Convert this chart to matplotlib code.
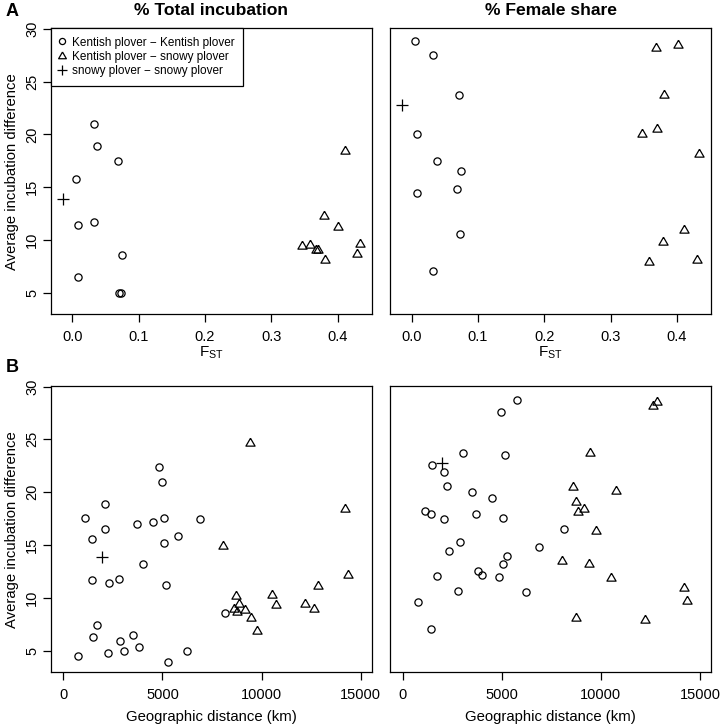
import numpy as np
import matplotlib
matplotlib.use("Agg")
import matplotlib.pyplot as plt

plt.rcParams['font.family'] = ['Liberation Sans', 'DejaVu Sans']
plt.rcParams['mathtext.fontset'] = 'custom'
plt.rcParams['mathtext.rm'] = 'Liberation Sans'

# Kentish plover - Kentish plover pairs
fst_kk = [0.005, 0.008, 0.008, 0.033, 0.033, 0.038, 0.069, 0.071, 0.073, 0.075]
tot_kk_fst = [15.8, 11.4, 6.5, 11.7, 21.0, 18.9, 17.5, 5.0, 5.0, 8.6]
fem_kk_fst = [28.8, 20.0, 14.4, 7.1, 27.5, 17.5, 14.8, 23.7, 10.6, 16.5]

# Kentish plover - snowy plover pairs
fst_ks = [0.347, 0.358, 0.368, 0.370, 0.379, 0.381, 0.401, 0.411, 0.430, 0.434]
tot_ks_fst = [9.4, 9.5, 9.0, 9.0, 12.25, 8.1, 11.2, 18.4, 8.7, 9.6]
fem_ks_fst = [20.0, 7.9, 28.2, 20.5, 9.8, 23.7, 28.5, 10.9, 8.1, 18.1]

# snowy plover - snowy plover pair
fst_ss = [-0.014]
tot_ss = [13.9]
fem_ss = [22.8]

# geographic distance (km)
dist_kk = [756, 1118, 1446, 1446, 1490, 1715, 2084, 2101, 2244, 2320, 2807,
           2874, 3059, 3520, 3715, 3810, 4018, 4504, 4840, 4958, 5060, 5077,
           5176, 5260, 5781, 6218, 6898, 8134]
tot_kk_geo = [4.5, 17.6, 15.6, 11.7, 6.3, 7.4, 18.9, 16.5, 4.8, 11.4, 11.8,
              5.95, 5.0, 6.5, 17.0, 5.3, 13.2, 17.15, 22.4, 21.0, 17.6, 15.2,
              11.25, 3.95, 15.85, 5.0, 17.5, 8.6]
fem_kk_geo = [9.6, 18.2, 17.9, 7.05, 22.55, 12.05, 21.9, 17.5, 20.55, 14.4,
              10.65, 15.3, 23.7, 20.0, 17.95, 12.55, 12.2, 19.45, 12.0, 27.55,
              17.6, 13.2, 23.5, 14.0, 28.75, 10.55, 14.85, 16.5]

dist_ks = [8040, 8590, 8725, 8738, 8840, 9167, 9394, 9445, 9755, 10503,
           10747, 12209, 12629, 12848, 14200, 14343]
tot_ks_geo = [14.9, 8.95, 10.15, 8.7, 9.4, 8.85, 24.7, 8.05, 6.85, 10.3,
              9.3, 9.45, 8.9, 11.15, 18.4, 12.2]
fem_ks_geo = [13.5, 20.5, 19.1, 8.1, 18.1, 18.4, 13.2, 23.7, 16.3, 11.9,
              20.1, 7.9, 28.2, 28.5, 10.9, 9.7]

dist_ss = [1975]
tot_ss_geo = [13.9]
fem_ss_geo = [22.8]

legend_labels = ['Kentish plover \u2212 Kentish plover',
                 'Kentish plover \u2212 snowy plover',
                 'snowy plover \u2212 snowy plover']

tri = [(0, 1), (-0.866, -0.5), (0.866, -0.5), (0, 1)]
circ_kw = dict(marker='o', ms=5.2, mfc='none', mec='black', mew=0.9, ls='none')
tri_kw = dict(marker=tri, ms=7.6, mfc='none', mec='black', mew=0.9, ls='none')
plus_kw = dict(marker='+', ms=8, mec='black', mew=0.9, ls='none')

fig = plt.figure(figsize=(7.24, 7.27), dpi=100)
W, H = 724.0, 727.0

def make_ax(x0, x1, y0, y1):
    return fig.add_axes([x0 / W, 1 - y1 / H, (x1 - x0) / W, (y1 - y0) / H])

ax1 = make_ax(51, 371.7, 28.3, 314.3)
ax2 = make_ax(390.3, 711, 28.3, 314.3)
ax3 = make_ax(51, 371.7, 386, 672.3)
ax4 = make_ax(390.3, 711, 386, 672.3)

panels = [
    (ax1, fst_kk, tot_kk_fst, fst_ks, tot_ks_fst, fst_ss, tot_ss),
    (ax2, fst_kk, fem_kk_fst, fst_ks, fem_ks_fst, fst_ss, fem_ss),
    (ax3, dist_kk, tot_kk_geo, dist_ks, tot_ks_geo, dist_ss, tot_ss_geo),
    (ax4, dist_kk, fem_kk_geo, dist_ks, fem_ks_geo, dist_ss, fem_ss_geo),
]

handles = None
for ax, xk, yk, xs, ys, xp, yp in panels:
    h1, = ax.plot(xk, yk, **circ_kw)
    h2, = ax.plot(xs, ys, **tri_kw)
    h3, = ax.plot(xp, yp, **plus_kw)
    if handles is None:
        handles = [h1, h2, h3]
    ax.set_ylim(2.95, 30.05)
    for sp in ax.spines.values():
        sp.set_linewidth(0.9)
    ax.tick_params(labelsize=10.5, length=6, width=0.9, pad=5)
    ax.tick_params(axis='y', pad=2.5)

for ax in (ax1, ax2):
    ax.set_xlim(-0.032, 0.4515)
    ax.set_xticks([0.0, 0.1, 0.2, 0.3, 0.4])
    ax.set_xticklabels(['0.0', '0.1', '0.2', '0.3', '0.4'])
    ax.set_xlabel('$\\mathregular{F_{ST}}$', fontsize=11, labelpad=1)

for ax in (ax3, ax4):
    ax.set_xlim(-620, 15550)
    ax.set_xticks([0, 5000, 10000, 15000])
    ax.set_xlabel('Geographic distance (km)', fontsize=10.7, labelpad=6)

for ax in (ax1, ax3):
    ax.set_yticks([5, 10, 15, 20, 25, 30])
    for lab in ax.get_yticklabels():
        lab.set_rotation(90)
        lab.set_va('center')
    ax.set_ylabel('Average incubation difference', fontsize=10.7, labelpad=4.5)

for ax in (ax2, ax4):
    ax.set_yticks([])

ax1.set_title('% Total incubation', fontsize=12.6, fontweight='bold', pad=9.5)
ax2.set_title('% Female share', fontsize=12.6, fontweight='bold', pad=9.5)

leg = ax1.legend(handles, legend_labels,
                 loc='upper left', borderaxespad=0, fancybox=False,
                 framealpha=1, edgecolor='black', fontsize=8.5,
                 handlelength=0.4, handletextpad=0.65, labelspacing=0.2,
                 borderpad=0.7, markerscale=0.85)
leg.get_frame().set_linewidth(0.9)

fig.text(12 / W, 1 - 12 / H, 'A', fontsize=13, fontweight='bold', ha='center', va='center')
fig.text(12 / W, 1 - 367 / H, 'B', fontsize=13, fontweight='bold', ha='center', va='center')

fig.savefig('out.png', dpi=100)
